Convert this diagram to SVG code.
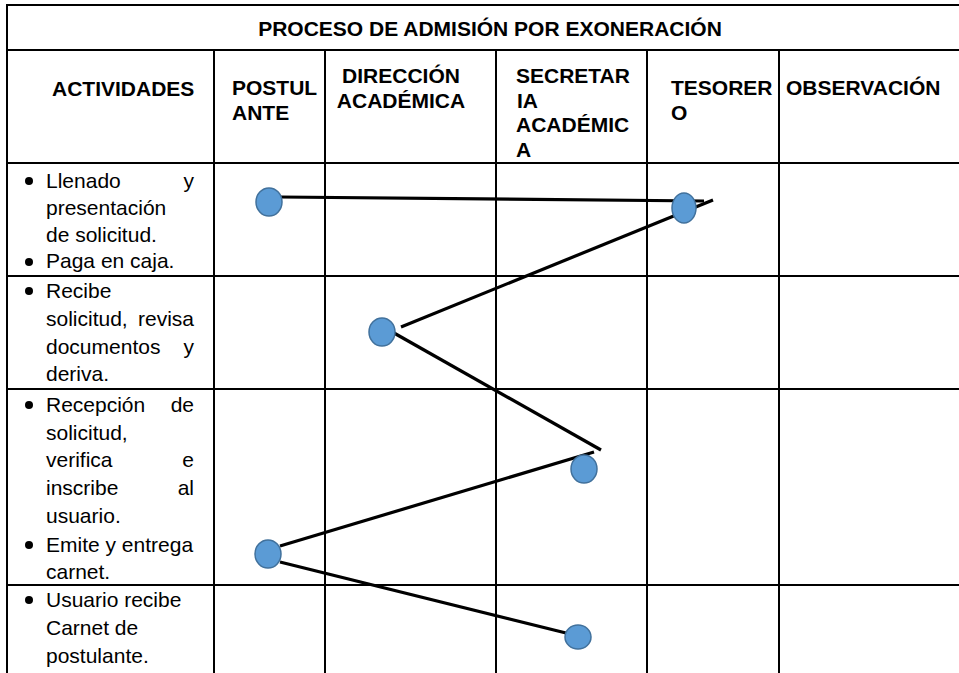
<svg xmlns="http://www.w3.org/2000/svg" width="959" height="673" viewBox="0 0 959 673">
<style>
.grid line{stroke:#000;stroke-width:2}
.h{font-family:"Liberation Sans",Arial,sans-serif;font-weight:bold;font-size:21px;fill:#000}
.t{font-family:"Liberation Sans",Arial,sans-serif;font-size:21px;fill:#000}
.b{fill:#000}
.node{fill:#5B9BD5;stroke:#41719C;stroke-width:1.5}
.conn line{stroke:#000;stroke-width:3.2;stroke-linecap:butt}
</style>
<rect x="0" y="0" width="959" height="673" fill="#fff"/>
<g id="table" class="grid">
<line x1="6" y1="5" x2="960" y2="5"/>
<line x1="6" y1="50" x2="960" y2="50"/>
<line x1="6" y1="163" x2="960" y2="163"/>
<line x1="6" y1="276" x2="960" y2="276"/>
<line x1="6" y1="389" x2="960" y2="389"/>
<line x1="6" y1="585" x2="960" y2="585"/>
<line x1="7" y1="4" x2="7" y2="673"/>
<line x1="214" y1="50" x2="214" y2="673"/>
<line x1="325" y1="50" x2="325" y2="673"/>
<line x1="496" y1="50" x2="496" y2="673"/>
<line x1="647" y1="50" x2="647" y2="673"/>
<line x1="779" y1="50" x2="779" y2="673"/>
</g>
<g id="headers">
<text class="h" x="490" y="36" text-anchor="middle">PROCESO DE ADMISIÓN POR EXONERACIÓN</text>
<text class="h" x="52" y="96">ACTIVIDADES</text>
<text class="h" x="232" y="95">POSTUL</text>
<text class="h" x="232" y="120">ANTE</text>
<text class="h" x="401" y="83" text-anchor="middle">DIRECCIÓN</text>
<text class="h" x="401" y="108" text-anchor="middle">ACADÉMICA</text>
<text class="h" x="516" y="83">SECRETAR</text>
<text class="h" x="517" y="107.5">IA</text>
<text class="h" x="516" y="132">ACADÉMIC</text>
<text class="h" x="516" y="156.5">A</text>
<text class="h" x="671" y="95">TESORER</text>
<text class="h" x="671" y="120">O</text>
<text class="h" x="786" y="95">OBSERVACIÓN</text>
</g>
<g id="activities">
<circle class="b" cx="29" cy="181" r="4"/>
<text class="t" x="46" y="188">Llenado</text>
<text class="t" x="194" y="188" text-anchor="end">y</text>
<text class="t" x="46" y="215">presentación</text>
<text class="t" x="46" y="242">de solicitud.</text>
<circle class="b" cx="29" cy="262" r="4"/>
<text class="t" x="46" y="268">Paga en caja.</text>

<circle class="b" cx="29" cy="291" r="4"/>
<text class="t" x="46" y="298">Recibe</text>
<text class="t" x="46" y="326">solicitud,</text>
<text class="t" x="194" y="326" text-anchor="end">revisa</text>
<text class="t" x="46" y="354">documentos</text>
<text class="t" x="194" y="354" text-anchor="end">y</text>
<text class="t" x="46" y="381">deriva.</text>

<circle class="b" cx="29" cy="405" r="4"/>
<text class="t" x="46" y="412">Recepción</text>
<text class="t" x="194" y="412" text-anchor="end">de</text>
<text class="t" x="46" y="440">solicitud,</text>
<text class="t" x="46" y="467">verifica</text>
<text class="t" x="194" y="467" text-anchor="end">e</text>
<text class="t" x="46" y="495">inscribe</text>
<text class="t" x="194" y="495" text-anchor="end">al</text>
<text class="t" x="46" y="523">usuario.</text>
<circle class="b" cx="29" cy="545" r="4"/>
<text class="t" x="46" y="552">Emite y entrega</text>
<text class="t" x="46" y="579">carnet.</text>

<circle class="b" cx="29" cy="600" r="4"/>
<text class="t" x="46" y="607">Usuario recibe</text>
<text class="t" x="46" y="635">Carnet de</text>
<text class="t" x="46" y="663">postulante.</text>
</g>
<g id="connectors" class="conn">
<line x1="280" y1="197" x2="704" y2="201"/>
<line x1="713" y1="200" x2="401" y2="327"/>
<line x1="394" y1="333" x2="601" y2="450"/>
<line x1="594" y1="452" x2="280" y2="546"/>
<line x1="280" y1="562" x2="566" y2="633"/>
</g>
<g id="n1"><ellipse class="node" cx="269" cy="202" rx="13" ry="14"/></g>
<g id="n2"><ellipse class="node" cx="684" cy="208" rx="12" ry="15"/></g>
<g id="n3"><ellipse class="node" cx="382" cy="332" rx="13" ry="14"/></g>
<g id="n4"><ellipse class="node" cx="584" cy="469" rx="13" ry="14"/></g>
<g id="n5"><ellipse class="node" cx="268" cy="554" rx="13" ry="14"/></g>
<g id="n6"><ellipse class="node" cx="578" cy="637" rx="13" ry="12"/></g>
</svg>
